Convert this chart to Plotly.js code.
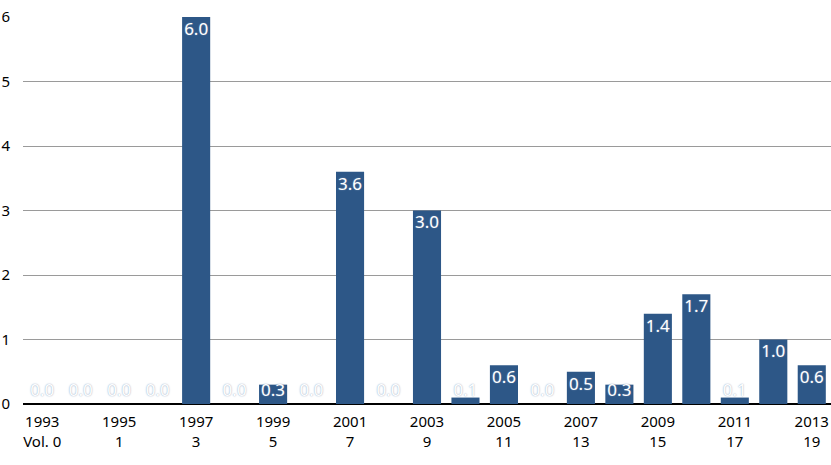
<!DOCTYPE html>
<html>
<head>
<meta charset="utf-8">
<script src="https://cdn.plot.ly/plotly-3.0.1.min.js"></script>
<style>
  html, body { margin: 0; padding: 0; background: #fff; }
  #chart { width: 831px; height: 465px; }
</style>
</head>
<body>
<div id="chart"></div>
<script>
// one bar per year, ticks every second year with the volume number under it
const years = [1993, 1994, 1995, 1996, 1997, 1998, 1999, 2000, 2001, 2002, 2003,
               2004, 2005, 2006, 2007, 2008, 2009, 2010, 2011, 2012, 2013];
const values = [0.0, 0.0, 0.0, 0.0, 6.0, 0.0, 0.3, 0.0, 3.6, 0.0, 3.0,
                0.1, 0.6, 0.0, 0.5, 0.3, 1.4, 1.7, 0.1, 1.0, 0.6];
const tickYears = [1993, 1995, 1997, 1999, 2001, 2003, 2005, 2007, 2009, 2011, 2013];
const volumes = ['Vol. 0', '1', '3', '5', '7', '9', '11', '13', '15', '17', '19'];

const FONT = 'Noto Sans, Open Sans, sans-serif';

const bars = {
    type: 'bar',
    x: years,
    y: values,
    marker: { color: '#2d5787' },
    hoverinfo: 'x+y'
};

// value labels sit just under the bar top, but never lower than the baseline strip
const labels = {
    type: 'scatter',
    mode: 'text',
    x: years,
    y: values.map(v => Math.max(v - 0.21, 0.19)),
    text: values.map(v => v.toFixed(1)),
    textposition: 'middle center',
    textfont: {
        family: FONT,
        size: 17,
        color: '#ffffff',
        shadow: '0px 0px 1.5px #7f94b4'
    },
    hoverinfo: 'skip'
};

const layout = {
    width: 831,
    height: 465,
    margin: { l: 23, r: 0, t: 17, b: 61 },
    paper_bgcolor: '#ffffff',
    plot_bgcolor: '#ffffff',
    showlegend: false,
    bargap: 0.27,
    font: { family: FONT, size: 15, color: '#000' },
    xaxis: {
        range: [1992.5, 2013.5],
        tickvals: tickYears,
        ticktext: tickYears.map((y, i) => y + '<br>' + volumes[i]),
        showgrid: false,
        zeroline: false,
        showline: false,
        ticks: '',
        ticklabelstandoff: 7,
        tickfont: { family: FONT, size: 15, color: '#000' },
        fixedrange: true
    },
    yaxis: {
        range: [0, 6],
        dtick: 1,
        showgrid: true,
        gridcolor: '#9a9a9a',
        gridwidth: 1,
        zeroline: true,
        zerolinecolor: '#000',
        zerolinewidth: 1.5,
        showline: false,
        ticks: '',
        ticklabelstandoff: 12,
        tickfont: { family: FONT, size: 15, color: '#000' },
        fixedrange: true
    }
};

Plotly.newPlot('chart', [bars, labels], layout, { displayModeBar: false, staticPlot: true });
</script>
</body>
</html>
